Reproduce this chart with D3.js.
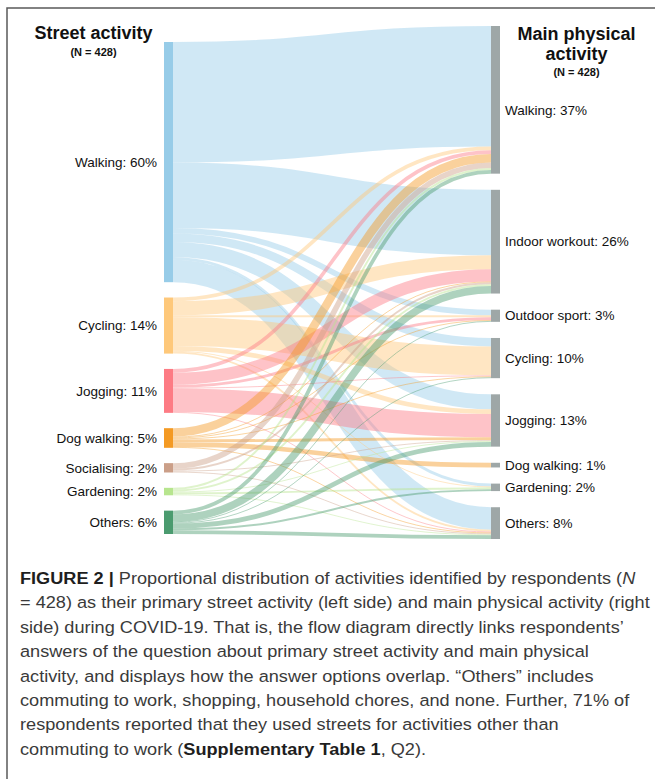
<!DOCTYPE html>
<html><head><meta charset="utf-8">
<script src="https://cdn.jsdelivr.net/npm/d3@7"></script>
<style>
html,body{margin:0;padding:0;background:#fff;}
svg{display:block;}
</style></head><body>
<svg id="chart" width="655" height="779"></svg>
<script>
// ---------- data ----------
const leftNames  = ["Walking","Cycling","Jogging","Dog walking","Socialising","Gardening","Others"];
const leftPct    = ["60%","14%","11%","5%","2%","2%","6%"];
const rightNames = ["Walking","Indoor workout","Outdoor sport","Cycling","Jogging","Dog walking","Gardening","Others"];
const rightPct   = ["37%","26%","3%","10%","13%","1%","2%","8%"];
const leftColors = ["#97cce8","#fec87a","#fd7b84","#f49a23","#cb9f88","#b7e58e","#4b9b6f"];
const rightColor = "#9ea7a7";
// respondents per (street activity -> main physical activity), columns follow rightNames
const fromWalking     = [129, 70, 6, 9, 16, 0, 3, 24];
const fromCycling     = [4, 15, 2, 31, 5, 0, 1, 2];
const fromJogging     = [4, 13, 3, 1, 25, 0, 0, 1];
const fromDogWalking  = [9, 1, 1, 1, 3, 5, 0, 1];
const fromSocialising = [6, 2, 0, 0, 1, 0, 0, 1];
const fromGardening   = [2, 2, 0, 0, 1, 0, 2, 1];
const fromOthers      = [4, 8, 1, 1, 5, 0, 2, 4];
const flows = [fromWalking, fromCycling, fromJogging, fromDogWalking, fromSocialising, fromGardening, fromOthers];
const captionLines = [
  [{t:"FIGURE 2 |", b:true},{t:" Proportional distribution of activities identified by respondents ("},{t:"N", i:true}],
  [{t:"= 428) as their primary street activity (left side) and main physical activity (right"}],
  [{t:"side) during COVID-19. That is, the flow diagram directly links respondents\u2019"}],
  [{t:"answers of the question about primary street activity and main physical"}],
  [{t:"activity, and displays how the answer options overlap. \u201cOthers\u201d includes"}],
  [{t:"commuting to work, shopping, household chores, and none. Further, 71% of"}],
  [{t:"respondents reported that they used streets for activities other than"}],
  [{t:"commuting to work ("},{t:"Supplementary Table 1", b:true},{t:", Q2)."}]
];

// ---------- layout ----------
const svg = d3.select("#chart");
const font = "'Liberation Sans', Arial, Helvetica, sans-serif";
const total = d3.sum(flows, r => d3.sum(r));
const hScale = d3.scaleLinear().domain([0, total]).range([0, 400]);
const nodeW = 9;
const leftX = 164, rightX = 491;
const leftTop = 42, leftBottom = 534;
const rightTop = 26, rightBottom = 539;

const leftVals = flows.map(r => d3.sum(r));
const rightVals = rightNames.map((_, j) => d3.sum(flows, r => r[j]));

function stack(vals, top, bottom) {
  const hs = vals.map(v => hScale(v));
  const pad = (bottom - top - d3.sum(hs)) / (vals.length - 1);
  let y = top;
  return hs.map(h => { const n = {y0: y, y1: y + h}; y += h + pad; return n; });
}
const leftNodes = stack(leftVals, leftTop, leftBottom);
const rightNodes = stack(rightVals, rightTop, rightBottom);

// links
const links = [];
const srcOff = leftNodes.map(n => n.y0);
const tgtOff = rightNodes.map(n => n.y0);
flows.forEach((row, i) => row.forEach((v, j) => {
  if (v > 0) links.push({s: i, t: j, v});
}));
// source offsets: ordered by target index
links.slice().sort((a,b) => a.s - b.s || a.t - b.t).forEach(l => {
  const w = hScale(l.v); l.w = w; l.ys = srcOff[l.s] + w/2; srcOff[l.s] += w;
});
// target offsets: ordered by source index
links.slice().sort((a,b) => a.t - b.t || a.s - b.s).forEach(l => {
  l.yt = tgtOff[l.t] + l.w/2; tgtOff[l.t] += l.w;
});

const linkGen = d3.linkHorizontal()
  .source(d => [leftX + nodeW, d.ys])
  .target(d => [rightX, d.yt]);

// frame
svg.append("path").attr("d", "M7,779V8H655").attr("fill","none")
  .attr("stroke","#5a5a5a").attr("stroke-width",1.5);

svg.append("g").selectAll("path").data(links).join("path")
  .attr("d", linkGen)
  .attr("fill","none")
  .attr("stroke", d => leftColors[d.s])
  .attr("stroke-opacity", 0.45)
  .attr("stroke-width", d => Math.max(0.8, d.w));

svg.append("g").selectAll("rect").data(leftNodes).join("rect")
  .attr("x", leftX).attr("y", d => d.y0).attr("width", nodeW)
  .attr("height", d => d.y1 - d.y0).attr("fill", (d,i) => leftColors[i]);
svg.append("g").selectAll("rect").data(rightNodes).join("rect")
  .attr("x", rightX).attr("y", d => d.y0).attr("width", nodeW)
  .attr("height", d => d.y1 - d.y0).attr("fill", rightColor);

// labels
svg.append("g").selectAll("text").data(leftNodes).join("text")
  .attr("x", leftX - 7).attr("y", d => (d.y0 + d.y1)/2).attr("dy","0.35em")
  .attr("text-anchor","end").attr("font-family",font).attr("font-size",13.5).attr("fill","#111")
  .text((d,i) => `${leftNames[i]}: ${leftPct[i]}`);
svg.append("g").selectAll("text").data(rightNodes).join("text")
  .attr("x", rightX + nodeW + 5).attr("y", (d,i) => (d.y0 + d.y1)/2 + (i === 0 ? 10 : 0)).attr("dy","0.35em")
  .attr("text-anchor","start").attr("font-family",font).attr("font-size",13.5).attr("fill","#111")
  .text((d,i) => `${rightNames[i]}: ${rightPct[i]}`);

// titles
function title(x, lines) {
  lines.forEach(l => svg.append("text").attr("x", x).attr("y", l.y)
    .attr("text-anchor","middle").attr("font-family",font).attr("font-weight","bold")
    .attr("font-size", l.s).attr("fill","#111").text(l.t));
}
title(93.5, [{t:"Street activity", y:39, s:18},{t:"(N = 428)", y:56, s:11}]);
title(576.5, [{t:"Main physical", y:40, s:18},{t:"activity", y:59.5, s:18},{t:"(N = 428)", y:76, s:11}]);

// caption
const cap = svg.append("g");
const baseY = 584, lineH = 24.4;
const capTexts = captionLines.map((segs, k) => {
  const t = cap.append("text").attr("x", 0).attr("y", baseY + k*lineH)
    .attr("font-family", font).attr("font-size", 17).attr("fill", "#3a3a3a");
  segs.forEach(s => {
    const ts = t.append("tspan").text(s.t);
    if (s.b) ts.attr("font-weight","bold").attr("fill","#1e1e1e");
    if (s.i) ts.attr("font-style","italic");
  });
  return t;
});
const w2 = capTexts[1].node().getComputedTextLength();
const sx = 630 / w2;
cap.attr("transform", `translate(20,0) scale(${sx},1)`);
</script>
</body></html>
